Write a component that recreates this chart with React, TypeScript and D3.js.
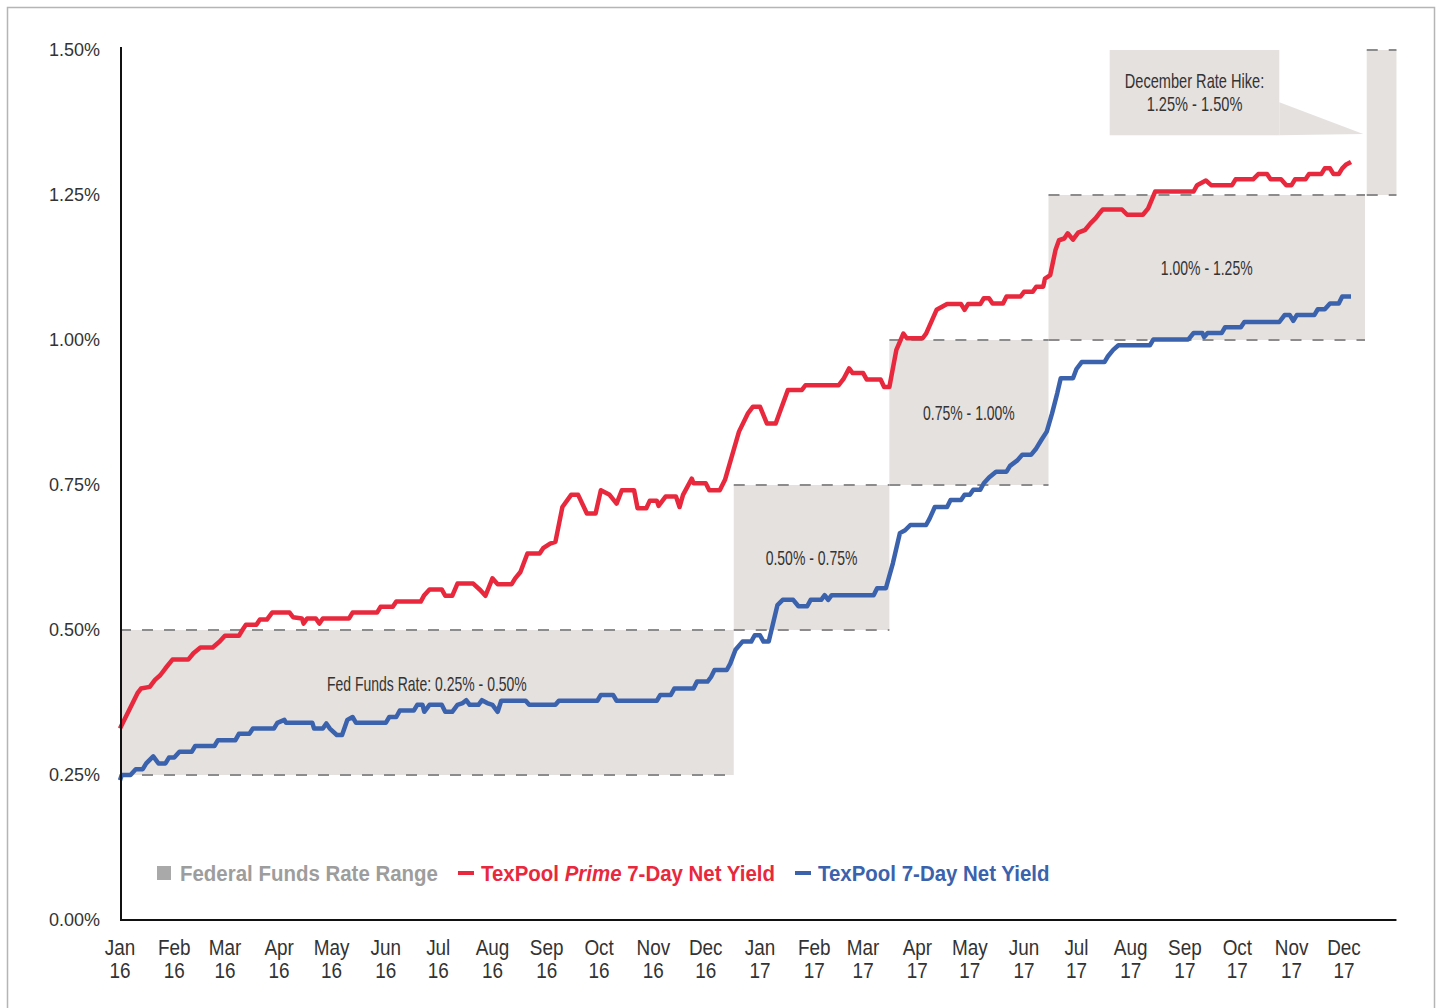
import { useEffect, useRef } from "react";
import * as d3 from "d3";

// TexPool Prime 7-day net yield (%)
const primeYield: [string, number][] = [
  ["2016-01-01", 0.33], ["2016-01-11", 0.391], ["2016-01-13", 0.399], ["2016-01-18", 0.402],
  ["2016-01-21", 0.414], ["2016-01-24", 0.422], ["2016-01-27", 0.434], ["2016-01-31", 0.449],
  ["2016-02-09", 0.449], ["2016-02-12", 0.46], ["2016-02-16", 0.47], ["2016-02-23", 0.47],
  ["2016-02-27", 0.48], ["2016-03-01", 0.49], ["2016-03-09", 0.49], ["2016-03-11", 0.5],
  ["2016-03-13", 0.509], ["2016-03-19", 0.509], ["2016-03-21", 0.518], ["2016-03-25", 0.518],
  ["2016-03-28", 0.53], ["2016-04-07", 0.53], ["2016-04-09", 0.522], ["2016-04-14", 0.52],
  ["2016-04-15", 0.511], ["2016-04-17", 0.52], ["2016-04-22", 0.52], ["2016-04-24", 0.511],
  ["2016-04-26", 0.52], ["2016-05-11", 0.52], ["2016-05-13", 0.53], ["2016-05-27", 0.53],
  ["2016-05-29", 0.54], ["2016-06-05", 0.54], ["2016-06-07", 0.549], ["2016-06-21", 0.549],
  ["2016-06-23", 0.56], ["2016-06-26", 0.57], ["2016-07-03", 0.57], ["2016-07-05", 0.559],
  ["2016-07-09", 0.559], ["2016-07-12", 0.58], ["2016-07-21", 0.58], ["2016-07-25", 0.569],
  ["2016-07-28", 0.559], ["2016-08-01", 0.589], ["2016-08-04", 0.579], ["2016-08-12", 0.579],
  ["2016-08-14", 0.589], ["2016-08-17", 0.6], ["2016-08-21", 0.632], ["2016-08-28", 0.632],
  ["2016-08-30", 0.641], ["2016-09-03", 0.649], ["2016-09-06", 0.652], ["2016-09-10", 0.712],
  ["2016-09-15", 0.733], ["2016-09-19", 0.733], ["2016-09-24", 0.701], ["2016-09-29", 0.701],
  ["2016-10-02", 0.741], ["2016-10-07", 0.733], ["2016-10-11", 0.718], ["2016-10-14", 0.741],
  ["2016-10-21", 0.741], ["2016-10-23", 0.71], ["2016-10-28", 0.71], ["2016-10-30", 0.723],
  ["2016-11-03", 0.723], ["2016-11-04", 0.714], ["2016-11-08", 0.73], ["2016-11-14", 0.73],
  ["2016-11-16", 0.712], ["2016-11-18", 0.733], ["2016-11-23", 0.761], ["2016-11-24", 0.753],
  ["2016-12-01", 0.753], ["2016-12-03", 0.741], ["2016-12-09", 0.741], ["2016-12-12", 0.759],
  ["2016-12-20", 0.842], ["2016-12-25", 0.873], ["2016-12-28", 0.885], ["2017-01-01", 0.885],
  ["2017-01-05", 0.856], ["2017-01-10", 0.856], ["2017-01-12", 0.873], ["2017-01-17", 0.914],
  ["2017-01-25", 0.914], ["2017-01-27", 0.922], ["2017-02-15", 0.922], ["2017-02-18", 0.934],
  ["2017-02-21", 0.951], ["2017-02-23", 0.943], ["2017-03-01", 0.943], ["2017-03-03", 0.932],
  ["2017-03-11", 0.932], ["2017-03-13", 0.919], ["2017-03-16", 0.919], ["2017-03-20", 0.983],
  ["2017-03-24", 1.011], ["2017-03-26", 1.003], ["2017-04-04", 1.003], ["2017-04-06", 1.011],
  ["2017-04-12", 1.052], ["2017-04-18", 1.062], ["2017-04-26", 1.062], ["2017-04-28", 1.052],
  ["2017-04-30", 1.062], ["2017-05-07", 1.062], ["2017-05-09", 1.072], ["2017-05-12", 1.072],
  ["2017-05-14", 1.063], ["2017-05-20", 1.063], ["2017-05-22", 1.075], ["2017-05-30", 1.075],
  ["2017-06-01", 1.083], ["2017-06-06", 1.083], ["2017-06-08", 1.092], ["2017-06-12", 1.092],
  ["2017-06-13", 1.106], ["2017-06-16", 1.112], ["2017-06-19", 1.155], ["2017-06-21", 1.172],
  ["2017-06-24", 1.175], ["2017-06-26", 1.184], ["2017-06-29", 1.173], ["2017-07-02", 1.185],
  ["2017-07-06", 1.19], ["2017-07-09", 1.201], ["2017-07-12", 1.21], ["2017-07-14", 1.218],
  ["2017-07-16", 1.225], ["2017-07-27", 1.225], ["2017-07-30", 1.216], ["2017-08-08", 1.216],
  ["2017-08-11", 1.227], ["2017-08-15", 1.256], ["2017-09-06", 1.256], ["2017-09-08", 1.267],
  ["2017-09-13", 1.275], ["2017-09-16", 1.267], ["2017-09-28", 1.267], ["2017-09-30", 1.277],
  ["2017-10-10", 1.277], ["2017-10-13", 1.286], ["2017-10-18", 1.286], ["2017-10-20", 1.277],
  ["2017-10-26", 1.277], ["2017-10-29", 1.267], ["2017-11-01", 1.267], ["2017-11-03", 1.277],
  ["2017-11-09", 1.277], ["2017-11-11", 1.286], ["2017-11-18", 1.286], ["2017-11-20", 1.296],
  ["2017-11-23", 1.296], ["2017-11-25", 1.286], ["2017-11-28", 1.286], ["2017-11-30", 1.296],
  ["2017-12-02", 1.302], ["2017-12-05", 1.307],
];

// TexPool 7-day net yield (%)
const texpoolYield: [string, number][] = [
  ["2016-01-01", 0.241], ["2016-01-02", 0.25], ["2016-01-07", 0.25], ["2016-01-10", 0.26],
  ["2016-01-14", 0.26], ["2016-01-16", 0.27], ["2016-01-20", 0.282], ["2016-01-23", 0.27],
  ["2016-01-27", 0.27], ["2016-01-29", 0.28], ["2016-02-01", 0.28], ["2016-02-04", 0.29],
  ["2016-02-11", 0.29], ["2016-02-13", 0.3], ["2016-02-24", 0.3], ["2016-02-26", 0.31],
  ["2016-03-07", 0.31], ["2016-03-09", 0.321], ["2016-03-15", 0.321], ["2016-03-17", 0.33],
  ["2016-03-29", 0.33], ["2016-03-31", 0.34], ["2016-04-04", 0.345], ["2016-04-05", 0.34],
  ["2016-04-20", 0.34], ["2016-04-21", 0.33], ["2016-04-26", 0.33], ["2016-04-28", 0.339],
  ["2016-04-30", 0.33], ["2016-05-04", 0.319], ["2016-05-07", 0.319], ["2016-05-10", 0.345],
  ["2016-05-13", 0.35], ["2016-05-15", 0.34], ["2016-06-01", 0.34], ["2016-06-03", 0.35],
  ["2016-06-07", 0.35], ["2016-06-09", 0.361], ["2016-06-17", 0.361], ["2016-06-19", 0.371],
  ["2016-06-22", 0.371], ["2016-06-23", 0.359], ["2016-06-26", 0.371], ["2016-07-03", 0.371],
  ["2016-07-05", 0.359], ["2016-07-09", 0.359], ["2016-07-12", 0.371], ["2016-07-15", 0.374],
  ["2016-07-17", 0.379], ["2016-07-19", 0.371], ["2016-07-24", 0.371], ["2016-07-26", 0.379],
  ["2016-07-29", 0.374], ["2016-08-01", 0.371], ["2016-08-04", 0.359], ["2016-08-06", 0.378],
  ["2016-08-20", 0.378], ["2016-08-22", 0.371], ["2016-09-06", 0.371], ["2016-09-08", 0.378],
  ["2016-09-30", 0.378], ["2016-10-02", 0.388], ["2016-10-09", 0.388], ["2016-10-11", 0.378],
  ["2016-11-03", 0.378], ["2016-11-05", 0.388], ["2016-11-11", 0.388], ["2016-11-13", 0.399],
  ["2016-11-24", 0.399], ["2016-11-26", 0.411], ["2016-12-02", 0.411], ["2016-12-04", 0.419],
  ["2016-12-06", 0.431], ["2016-12-13", 0.431], ["2016-12-15", 0.442], ["2016-12-18", 0.466],
  ["2016-12-22", 0.48], ["2016-12-27", 0.48], ["2016-12-29", 0.491], ["2017-01-01", 0.491],
  ["2017-01-03", 0.48], ["2017-01-06", 0.48], ["2017-01-11", 0.543], ["2017-01-14", 0.552],
  ["2017-01-20", 0.552], ["2017-01-23", 0.541], ["2017-01-28", 0.541], ["2017-01-30", 0.552],
  ["2017-02-05", 0.552], ["2017-02-07", 0.56], ["2017-02-09", 0.552], ["2017-02-11", 0.56],
  ["2017-03-07", 0.56], ["2017-03-09", 0.572], ["2017-03-14", 0.572], ["2017-03-18", 0.615],
  ["2017-03-22", 0.667], ["2017-03-25", 0.672], ["2017-03-28", 0.681], ["2017-04-06", 0.681],
  ["2017-04-08", 0.692], ["2017-04-11", 0.712], ["2017-04-18", 0.712], ["2017-04-20", 0.724],
  ["2017-04-26", 0.724], ["2017-04-28", 0.733], ["2017-05-01", 0.733], ["2017-05-03", 0.742],
  ["2017-05-07", 0.742], ["2017-05-09", 0.753], ["2017-05-12", 0.763], ["2017-05-16", 0.773],
  ["2017-05-22", 0.773], ["2017-05-24", 0.783], ["2017-05-28", 0.792], ["2017-05-31", 0.802],
  ["2017-06-05", 0.802], ["2017-06-08", 0.813], ["2017-06-11", 0.828], ["2017-06-14", 0.842],
  ["2017-06-17", 0.873], ["2017-06-20", 0.908], ["2017-06-22", 0.934], ["2017-06-29", 0.934],
  ["2017-07-01", 0.95], ["2017-07-04", 0.962], ["2017-07-17", 0.962], ["2017-07-19", 0.972],
  ["2017-07-22", 0.983], ["2017-07-25", 0.991], ["2017-08-12", 0.991], ["2017-08-14", 1.001],
  ["2017-09-03", 1.001], ["2017-09-06", 1.012], ["2017-09-11", 1.012], ["2017-09-12", 1.005],
  ["2017-09-14", 1.012], ["2017-09-22", 1.012], ["2017-09-24", 1.022], ["2017-10-03", 1.022],
  ["2017-10-05", 1.031], ["2017-10-25", 1.031], ["2017-10-28", 1.043], ["2017-10-31", 1.043],
  ["2017-11-02", 1.033], ["2017-11-04", 1.043], ["2017-11-14", 1.043], ["2017-11-16", 1.053],
  ["2017-11-20", 1.053], ["2017-11-23", 1.063], ["2017-11-28", 1.063], ["2017-11-30", 1.075],
  ["2017-12-05", 1.075],
];

// Fed funds target ranges
const fedStart = ["2016-01-01", "2016-12-17", "2017-03-16", "2017-06-15", "2017-12-14"];
const fedEnd = ["2016-12-17", "2017-03-16", "2017-06-15", "2017-12-13", "2017-12-31"];
const fedLow = [0.25, 0.5, 0.75, 1.0, 1.25];
const fedHigh = [0.5, 0.75, 1.0, 1.25, 1.5];
const fedLabels = ["Fed Funds Rate: 0.25% - 0.50%", "0.50% - 0.75%", "0.75% - 1.00%", "1.00% - 1.25%", ""];
const fedLabelAt = [0.407, 0.625, 0.875, 1.125, 0];

const yTicks = [0, 0.25, 0.5, 0.75, 1.0, 1.25, 1.5];
const monthNames = ["Jan", "Feb", "Mar", "Apr", "May", "Jun", "Jul", "Aug", "Sep", "Oct", "Nov", "Dec"];

const calloutLines = ["December Rate Hike:", "1.25% - 1.50%"];

const RED = "#e8283c";
const BLUE = "#3b62ad";
const BOX = "#e5e1df";
const SANS = "'Liberation Sans', Arial, sans-serif";
// no condensed face is installed, so narrow text is squeezed horizontally
const SQUEEZE_LABEL = 0.7;
const SQUEEZE_TICK = 0.86;
const SQUEEZE_LEGEND = 0.93;

const App = () => {
  const ref = useRef<SVGSVGElement>(null);

  useEffect(() => {
    const svg = d3.select(ref.current);
    svg.selectAll("*").remove();
    const parse = d3.timeParse("%Y-%m-%d");

    const x = d3
      .scaleTime()
      .domain([new Date(2016, 0, 1), new Date(2017, 11, 1)])
      .range([120, 1344]);
    const y = d3.scaleLinear().domain([0, 1.5]).range([920, 50]);

    // outer frame
    svg
      .append("rect")
      .attr("x", 7.5)
      .attr("y", 7.5)
      .attr("width", 1427)
      .attr("height", 1010)
      .attr("fill", "none")
      .attr("stroke", "#b5b5b5")
      .attr("stroke-width", 1.5);

    // fed funds range boxes
    const ranges = fedStart.map((s, i) => ({
      x0: x(parse(s)!),
      x1: x(parse(fedEnd[i])!),
      lo: fedLow[i],
      hi: fedHigh[i],
      label: fedLabels[i],
      at: fedLabelAt[i],
    }));

    const boxes = svg.append("g");
    boxes
      .selectAll("rect")
      .data(ranges)
      .enter()
      .append("rect")
      .attr("x", d => d.x0)
      .attr("y", d => y(d.hi))
      .attr("width", d => d.x1 - d.x0)
      .attr("height", d => y(d.lo) - y(d.hi))
      .attr("fill", BOX);

    const dashes = ranges.flatMap(d => [
      { x0: d.x0, x1: d.x1, v: d.hi },
      { x0: d.x0, x1: d.x1, v: d.lo },
    ]);
    boxes
      .selectAll("line")
      .data(dashes)
      .enter()
      .append("line")
      .attr("x1", d => d.x0)
      .attr("x2", d => d.x1)
      .attr("y1", d => y(d.v))
      .attr("y2", d => y(d.v))
      .attr("stroke", "#8c8c8c")
      .attr("stroke-width", 2)
      .attr("stroke-dasharray", "11,11");

    boxes
      .selectAll("text")
      .data(ranges.filter(d => d.label))
      .enter()
      .append("text")
      .attr("transform", d => `translate(${(d.x0 + d.x1) / 2},${y(d.at) + 7}) scale(${SQUEEZE_LABEL},1)`)
      .attr("text-anchor", "middle")
      .attr("font-family", SANS)
      .attr("font-size", 20)
      .attr("fill", "#333")
      .text(d => d.label);

    // callout for the December hike
    const cx0 = x(new Date(2017, 6, 20));
    const cx1 = x(new Date(2017, 9, 25));
    const cy0 = y(1.5);
    const cy1 = y(1.353);
    const callout = svg.append("g");
    callout
      .append("path")
      .attr(
        "d",
        `M${cx1},${y(1.41)}L${x(new Date(2017, 11, 12))},${y(1.355)}L${cx1},${cy1}Z`
      )
      .attr("fill", BOX);
    callout
      .append("rect")
      .attr("x", cx0)
      .attr("y", cy0)
      .attr("width", cx1 - cx0)
      .attr("height", cy1 - cy0)
      .attr("fill", BOX);
    callout
      .selectAll("text")
      .data(calloutLines)
      .enter()
      .append("text")
      .attr("transform", (_d, i) => `translate(${(cx0 + cx1) / 2},${cy0 + 38 + i * 23}) scale(${SQUEEZE_LABEL + 0.03},1)`)
      .attr("text-anchor", "middle")
      .attr("font-family", SANS)
      .attr("font-size", 20)
      .attr("fill", "#333")
      .text(d => d);

    // series lines
    const line = d3
      .line<[string, number]>()
      .x(d => x(parse(d[0])!))
      .y(d => y(d[1]))
      .curve(d3.curveLinear);

    svg
      .append("path")
      .datum(texpoolYield)
      .attr("d", line)
      .attr("fill", "none")
      .attr("stroke", BLUE)
      .attr("stroke-width", 4.5)
      .attr("stroke-linejoin", "round");
    svg
      .append("path")
      .datum(primeYield)
      .attr("d", line)
      .attr("fill", "none")
      .attr("stroke", RED)
      .attr("stroke-width", 4.5)
      .attr("stroke-linejoin", "round");

    // axes
    svg
      .append("line")
      .attr("x1", 121)
      .attr("x2", 121)
      .attr("y1", y(1.5) - 3)
      .attr("y2", y(0) + 1)
      .attr("stroke", "#111")
      .attr("stroke-width", 2);
    svg
      .append("line")
      .attr("x1", 120)
      .attr("x2", x(new Date(2017, 11, 31)))
      .attr("y1", y(0))
      .attr("y2", y(0))
      .attr("stroke", "#111")
      .attr("stroke-width", 2);

    svg
      .append("g")
      .selectAll("text")
      .data(yTicks)
      .enter()
      .append("text")
      .attr("x", 100)
      .attr("y", d => y(d))
      .attr("dy", "0.36em")
      .attr("text-anchor", "end")
      .attr("font-family", SANS)
      .attr("font-size", 18)
      .attr("fill", "#333")
      .text(d => d3.format(".2f")(d) + "%");

    const months = d3.timeMonth.range(new Date(2016, 0, 1), new Date(2017, 11, 2));
    const xt = svg
      .append("g")
      .attr("font-family", SANS)
      .attr("font-size", 22)
      .attr("fill", "#333")
      .attr("text-anchor", "middle")
      .selectAll("g")
      .data(months)
      .enter()
      .append("g")
      .attr("transform", d => `translate(${x(d)},0) scale(${SQUEEZE_TICK},1)`);
    xt.append("text")
      .attr("y", 955)
      .text(d => monthNames[d.getMonth()]);
    xt.append("text")
      .attr("y", 978)
      .text(d => d3.timeFormat("%y")(d));

    // legend
    const ly = 873;
    const lg = svg
      .append("g")
      .attr("font-family", SANS)
      .attr("font-weight", "bold")
      .attr("font-size", 22);
    let lx = 157;
    const squeezed = (tx: number) =>
      lg.append("text").attr("transform", `translate(${tx},${ly + 8}) scale(${SQUEEZE_LEGEND},1)`);
    const width = (t: d3.Selection<SVGTextElement, unknown, null, undefined>) =>
      (t.node() as SVGTextElement).getComputedTextLength() * SQUEEZE_LEGEND;

    lg.append("rect")
      .attr("x", lx)
      .attr("y", ly - 7)
      .attr("width", 14)
      .attr("height", 14)
      .attr("fill", "#a9a9a9");
    const t1 = squeezed(lx + 23).attr("fill", "#9d9d9d").text("Federal Funds Rate Range");
    lx = lx + 23 + width(t1) + 20;

    lg.append("rect")
      .attr("x", lx)
      .attr("y", ly - 2)
      .attr("width", 16)
      .attr("height", 4)
      .attr("fill", RED);
    const t2 = squeezed(lx + 23).attr("fill", RED);
    t2.append("tspan").text("TexPool ");
    t2.append("tspan").attr("font-style", "italic").text("Prime");
    t2.append("tspan").text(" 7-Day Net Yield");
    lx = lx + 23 + width(t2) + 20;

    lg.append("rect")
      .attr("x", lx)
      .attr("y", ly - 2)
      .attr("width", 16)
      .attr("height", 4)
      .attr("fill", BLUE);
    squeezed(lx + 23).attr("fill", BLUE).text("TexPool 7-Day Net Yield");
  }, []);

  return (
    <svg
      ref={ref}
      width={1440}
      height={1008}
      style={{ position: "absolute", left: 0, top: 0, background: "#fff" }}
    />
  );
};

export default App;
